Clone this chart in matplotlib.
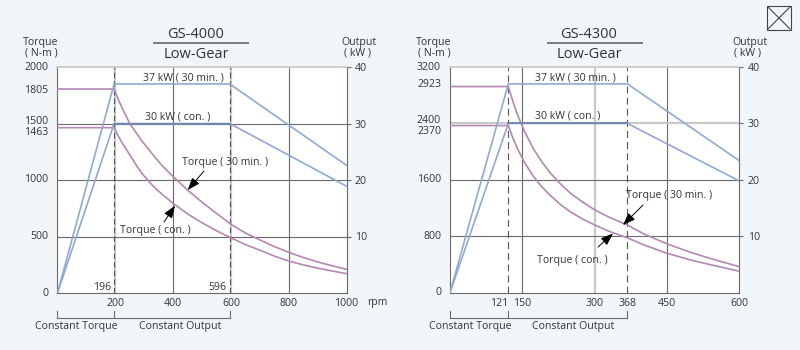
import matplotlib
matplotlib.use("Agg")
import matplotlib.pyplot as plt
import matplotlib.transforms as mtrans
from matplotlib.lines import Line2D
from matplotlib.patches import Rectangle, FancyArrowPatch

plt.rcParams['font.family'] = ['Open Sans', 'DejaVu Sans']
plt.rcParams['lines.scale_dashes'] = False

# ---------------- data ----------------
L_TITLE = "GS-4000"
L_RPM_TQ30 = [0, 196, 210, 225, 250, 290, 331, 360, 395, 450, 500, 550, 600,
              650, 700, 750, 800, 850, 900, 950, 1000]
L_TQ30 = [1805, 1805, 1714, 1631, 1500, 1352, 1221, 1133, 1043, 911, 804, 705, 608,
          531, 470, 411, 360, 315, 275, 241, 210]
L_RPM_TQC = [0, 196, 210, 225, 251, 275, 296, 330, 360, 400, 450, 500, 550, 600,
             650, 700, 750, 800, 850, 900, 950, 1000]
L_TQC = [1463, 1463, 1390, 1324, 1219, 1120, 1047, 948, 878, 793, 700, 622, 551, 488,
         429, 379, 327, 283, 249, 220, 195, 171]
L_RPM_OUT = [0, 196, 596, 1000]
L_OUT30 = [0, 37, 37, 22.6]
L_OUTC = [0, 30, 30, 18.9]
L_TQ_TICKS = [0, 500, 1000, 1463, 1500, 1805, 2000]
L_OUT_TICKS = [10, 20, 30, 40]
L_RPM_TICKS = [200, 400, 600, 800, 1000]
L_RPM_INSIDE = [196, 596]
L_XMAX, L_YMAX = 1000, 2000

R_TITLE = "GS-4300"
R_RPM_TQ30 = [0, 121, 130, 140, 155, 173, 190, 207, 230, 250, 275, 300, 330, 368,
              400, 449, 500, 550, 600]
R_TQ30 = [2923, 2923, 2720, 2525, 2280, 2040, 1860, 1705, 1535, 1410, 1285, 1175, 1070, 960,
          840, 695, 570, 465, 369]
R_RPM_TQC = [0, 121, 130, 140, 155, 173, 190, 207, 230, 250, 275, 300, 330, 368,
             400, 449, 500, 550, 600]
R_TQC = [2370, 2370, 2200, 2040, 1840, 1650, 1505, 1385, 1245, 1145, 1045, 960, 870, 778,
         683, 561, 462, 382, 305]
R_RPM_OUT = [0, 121, 368, 600]
R_OUT30 = [0, 37, 37, 23.4]
R_OUTC = [0, 30, 30, 19.8]
R_TQ_TICKS = [0, 800, 1600, 2370, 2400, 2923, 3200]
R_OUT_TICKS = [10, 20, 30, 40]
R_RPM_TICKS = [121, 150, 300, 368, 450, 600]
R_XMAX, R_YMAX = 600, 3200

# ---------------- style ----------------
BG = '#f3f6f9'
PINK = '#b487b4'
BLUE = '#8eaad4'
DBLUE = '#6f84a6'
DARK = '#6a6a6a'
LIGHT = '#c9c9c9'
TXT = '#333333'
FS = 7.6

W, H = 800, 350
fig = plt.figure(figsize=(8, 3.5), dpi=100, facecolor=BG)


def fx(x):
    return x / W


def fy(y):
    return 1 - y / H


def ftext(x, y, s, **kw):
    kw.setdefault('fontsize', FS)
    kw.setdefault('color', TXT)
    kw.setdefault('ha', 'center')
    kw.setdefault('va', 'center')
    fig.text(fx(x), fy(y), s, **kw)


def make_chart(x0, x1, y0, y1, xmax, ymax, title, rpm_tq30, tq30, rpm_tqc, tqc,
               rpm_out, out30, outc, tq_ticks, tq_offsets, out_ticks, rpm_ticks,
               dark_v, light_v, dark_h, light_h, dashed, dash_pat, inside_labels,
               head_x, out_x, title_x, uline, rpm_label,
               lbl30, lblc, ann30, annc, brk_text, right_aligned=()):
    ax = fig.add_axes([fx(x0), fy(y1), (x1 - x0) / W, (y1 - y0) / H])
    ax.set_facecolor('white')
    ax.set_xlim(0, xmax)
    ax.set_ylim(0, ymax)
    for s in ['left', 'bottom', 'right']:
        ax.spines[s].set_color(DARK)
        ax.spines[s].set_linewidth(0.8)
    ax.spines['top'].set_color(LIGHT)
    ax.spines['top'].set_linewidth(1.3)

    for v in light_v:
        ax.axvline(v, color=LIGHT, lw=1.6, zorder=1)
    for v in dark_v:
        ax.axvline(v, color=DARK, lw=0.8, zorder=1)
    for h in light_h:
        ax.axhline(h, color=LIGHT, lw=1.6, zorder=1)
    for h in dark_h:
        ax.axhline(h, color=DARK, lw=0.8, zorder=1)
    for v in dashed:
        ax.axvline(v, color='#555555', lw=0.8, linestyle=(0, dash_pat), zorder=2)

    # torque curves
    ax.plot(rpm_tq30, tq30, color=PINK, lw=1.2, zorder=3, solid_joinstyle='round')
    ax.plot(rpm_tqc, tqc, color=PINK, lw=1.2, zorder=3, solid_joinstyle='round')

    # ticks
    ax.set_yticks([])
    ax.set_xticks(rpm_ticks)
    ax.set_xticklabels([str(t) for t in rpm_ticks], fontsize=FS, color=TXT)
    ax.tick_params(axis='x', length=0, pad=3.5)
    for lab, t in zip(ax.get_xticklabels(), rpm_ticks):
        if t in right_aligned:
            lab.set_horizontalalignment('right')
    tr = mtrans.blended_transform_factory(ax.transAxes, ax.transData)
    for t, off in zip(tq_ticks, tq_offsets):
        tt = mtrans.offset_copy(tr, fig=fig, x=-9, y=off, units='dots')
        ax.text(0, t, str(t), transform=tt, ha='right', va='center',
                fontsize=FS, color=TXT)
    for v in inside_labels:
        tt = mtrans.offset_copy(ax.transData, fig=fig, x=-3, y=5, units='dots')
        ax.text(v, 0, str(v), transform=tt, ha='right', va='center',
                fontsize=FS, color=TXT)

    # output axis
    ax2 = ax.twinx()
    ax2.set_ylim(0, 40)
    ax2.set_yticks(out_ticks)
    ax2.set_yticklabels([str(t) for t in out_ticks], fontsize=FS, color=TXT)
    ax2.tick_params(axis='y', length=3, width=0.8, color=DARK, pad=3)
    for s in ax2.spines.values():
        s.set_visible(False)
    ax2.plot(rpm_out, out30, color=BLUE, lw=1.2, zorder=3)
    ax2.plot(rpm_out, outc, color=BLUE, lw=1.2, zorder=3)
    ax2.plot(rpm_out[1:3], outc[1:3], color=DBLUE, lw=1.2, zorder=4)

    # headers
    ftext(head_x, 43, "Torque")
    ftext(head_x, 53, "( N-m )")
    ftext(out_x, 43, "Output")
    ftext(out_x - 2, 53, "( kW )")
    ftext(title_x, 34, title, fontsize=10.5)
    ftext(title_x, 55, "Low-Gear", fontsize=10.5)
    fig.add_artist(Line2D([fx(uline[0]), fx(uline[1])], [fy(42.7), fy(42.7)],
                          color='#7a7a7a', lw=1.4, transform=fig.transFigure))
    if rpm_label:
        ftext(377, 302.5, "rpm")

    # in-plot labels
    ftext(lbl30[0], lbl30[1], "37 kW ( 30 min. )")
    ftext(lblc[0], lblc[1], "30 kW ( con. )")
    for (tx, ty, ax_, ay_, bx, by), s in [(ann30, "Torque ( 30 min. )"), (annc, "Torque ( con. )")]:
        ftext(tx, ty, s)
        fig.add_artist(FancyArrowPatch(
            (fx(ax_), fy(ay_)), (fx(bx), fy(by)), transform=fig.transFigure,
            arrowstyle='-|>,head_length=0.75,head_width=0.28', mutation_scale=10,
            color='black', lw=0.7, shrinkA=0, shrinkB=0))

    # bracket
    btr = mtrans.blended_transform_factory(ax.transData, fig.transFigure)
    xa, xb, xc = 0, rpm_out[1], rpm_out[2]
    ax.add_line(Line2D([xa, xc], [fy(317.7), fy(317.7)], transform=btr,
                       color=DARK, lw=0.8, clip_on=False))
    for v in (xa, xb, xc):
        ax.add_line(Line2D([v, v], [fy(310.5), fy(317.7)], transform=btr,
                           color=DARK, lw=0.8, clip_on=False))
    ftext(brk_text[0], 326, "Constant Torque")
    ftext(brk_text[1], 326, "Constant Output")
    return ax


make_chart(57.5, 346.5, 67, 293, L_XMAX, L_YMAX, L_TITLE,
           L_RPM_TQ30, L_TQ30, L_RPM_TQC, L_TQC, L_RPM_OUT, L_OUT30, L_OUTC,
           L_TQ_TICKS, [0, 0, 0, -4.5, 1.5, -1, 0], L_OUT_TICKS, L_RPM_TICKS,
           dark_v=[400, 800], light_v=[200, 600], dark_h=[500, 1000, 1500], light_h=[],
           dashed=L_RPM_INSIDE, dash_pat=(4, 2.2), inside_labels=L_RPM_INSIDE,
           head_x=41, out_x=359, title_x=196, uline=(154, 248), rpm_label=True,
           lbl30=(183, 78), lblc=(177.5, 117),
           ann30=(225, 162.5, 204, 171, 187.7, 190),
           annc=(155.5, 230, 164, 222, 175, 205.7),
           brk_text=(76, 180))

make_chart(450, 739.3, 67, 292.7, R_XMAX, R_YMAX, R_TITLE,
           R_RPM_TQ30, R_TQ30, R_RPM_TQC, R_TQC, R_RPM_OUT, R_OUT30, R_OUTC,
           R_TQ_TICKS, [0, 0, 0, -5.5, 3.4, 2, 0], R_OUT_TICKS, R_RPM_TICKS,
           dark_v=[150, 450], light_v=[300], dark_h=[800, 1600], light_h=[2400],
           dashed=[121, 368], dash_pat=(5, 3), inside_labels=[],
           head_x=434, out_x=750, title_x=589, uline=(548, 642), rpm_label=False,
           lbl30=(575, 77.5), lblc=(567.5, 116),
           ann30=(669, 195.5, 643, 205, 623, 225),
           annc=(572.5, 260, 598, 247, 613, 233.5),
           brk_text=(470, 573), right_aligned=(121,))

# close box
fig.add_artist(Rectangle((fx(767), fy(30)), 24 / W, 24.3 / H, transform=fig.transFigure,
                         fill=False, edgecolor='#444444', lw=0.8))
fig.add_artist(Line2D([fx(768), fx(790)], [fy(7), fy(29)], color='#444444', lw=0.8,
                      transform=fig.transFigure))
fig.add_artist(Line2D([fx(768), fx(790)], [fy(29), fy(7)], color='#444444', lw=0.8,
                      transform=fig.transFigure))

fig.savefig("out.png", dpi=100, facecolor=BG)
